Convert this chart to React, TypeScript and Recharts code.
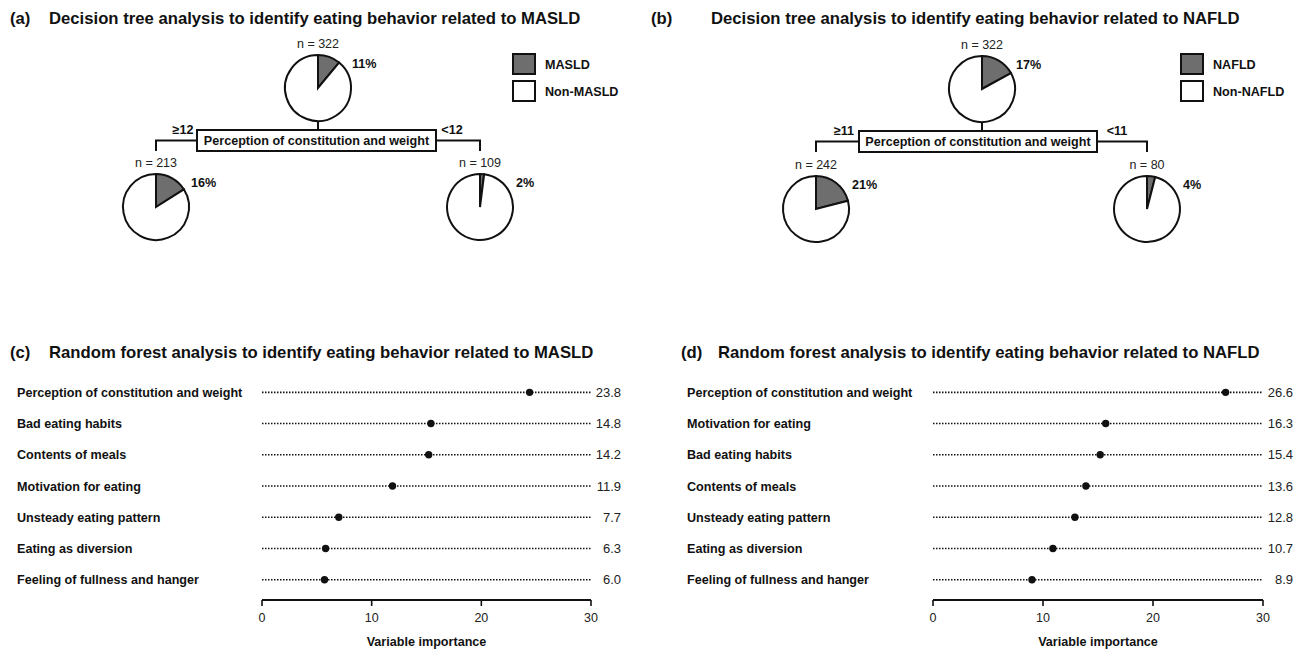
import React from 'react';
import { PieChart, Pie, Cell, ScatterChart, Scatter, XAxis, YAxis, ReferenceLine } from 'recharts';

const FONT = '"Liberation Sans", Arial, Helvetica, sans-serif';
const INK = '#111111';
const GRAY = '#6e6e6e';

// ---- Decision tree data ----
const splitVariable = 'Perception of constitution and weight';
const treeCountsA = [322, 213, 109];
const treePctA = [11, 16, 2];
const treeSplitA = ['≥12', '<12'];
const legendA = ['MASLD', 'Non-MASLD'];

const treeCountsB = [322, 242, 80];
const treePctB = [17, 21, 4];
const treeSplitB = ['≥11', '<11'];
const legendB = ['NAFLD', 'Non-NAFLD'];

// ---- Random forest data ----
const featuresC = [
  'Perception of constitution and weight',
  'Bad eating habits',
  'Contents of meals',
  'Motivation for eating',
  'Unsteady eating pattern',
  'Eating as diversion',
  'Feeling of fullness and hanger',
];
const importanceC = [24.4, 15.4, 15.2, 11.9, 7.0, 5.8, 5.7];
const valueLabelsC = ['23.8', '14.8', '14.2', '11.9', '7.7', '6.3', '6.0'];

const featuresD = [
  'Perception of constitution and weight',
  'Motivation for eating',
  'Bad eating habits',
  'Contents of meals',
  'Unsteady eating pattern',
  'Eating as diversion',
  'Feeling of fullness and hanger',
];
const importanceD = [26.6, 15.7, 15.2, 13.9, 12.9, 10.9, 9.0];
const valueLabelsD = ['26.6', '16.3', '15.4', '13.6', '12.8', '10.7', '8.9'];

const importanceTicks = [0, 10, 20, 30];

type TreeSpec = {
  panelX: number;
  tag: string;
  title: string;
  tagX: number;
  titleX: number;
  counts: number[];
  pcts: number[];
  splits: string[];
  legend: string[];
  nodes: [number, number][];
  box: [number, number, number, number];
  splitX: [number, number];
  pctX: number[];
  legendX: number;
};

const treeA: TreeSpec = {
  panelX: 0,
  tag: '(a)',
  title: 'Decision tree analysis to identify eating behavior related to MASLD',
  tagX: 10,
  titleX: 49,
  counts: treeCountsA,
  pcts: treePctA,
  splits: treeSplitA,
  legend: legendA,
  nodes: [[318, 88], [156, 207], [480, 207]],
  box: [197, 130, 436, 151],
  splitX: [183, 452],
  pctX: [352, 191, 516],
  legendX: 513,
};

const treeB: TreeSpec = {
  panelX: 650,
  tag: '(b)',
  title: 'Decision tree analysis to identify eating behavior related to NAFLD',
  tagX: 651,
  titleX: 711,
  counts: treeCountsB,
  pcts: treePctB,
  splits: treeSplitB,
  legend: legendB,
  nodes: [[982, 89], [816, 209], [1147, 209]],
  box: [859, 131, 1097, 152],
  splitX: [844, 1117],
  pctX: [1016, 852, 1183],
  legendX: 1181,
};

const R = 33;

function TreePies({ spec }: { spec: TreeSpec }) {
  return (
    <div style={{ position: 'absolute', left: spec.panelX, top: 0, width: 651, height: 260 }}>
      <PieChart width={651} height={260} margin={{ top: 0, right: 0, bottom: 0, left: 0 }}>
        {spec.nodes.map((n, i) => {
          const data = [
            { name: spec.legend[0], value: spec.pcts[i] },
            { name: spec.legend[1], value: 100 - spec.pcts[i] },
          ];
          return (
            <Pie
              key={i}
              data={data}
              dataKey="value"
              cx={n[0] - spec.panelX}
              cy={n[1]}
              innerRadius={0}
              outerRadius={R}
              startAngle={90}
              endAngle={-270}
              stroke={INK}
              strokeWidth={2}
              isAnimationActive={false}
              label={false}
              labelLine={false}
            >
              <Cell fill={GRAY} stroke={INK} strokeWidth={2} />
              <Cell fill="#ffffff" stroke={INK} strokeWidth={2} />
            </Pie>
          );
        })}
      </PieChart>
    </div>
  );
}

function TreeOverlay({ spec }: { spec: TreeSpec }) {
  const [root, left, right] = spec.nodes;
  const [bx0, by0, bx1, by1] = spec.box;
  const bmid = (by0 + by1) / 2;
  return (
    <g fontFamily={FONT}>
      <text x={spec.tagX} y={24} fontSize={16.7} fontWeight="bold" fill={INK}>{spec.tag}</text>
      <text x={spec.titleX} y={24} fontSize={16.7} fontWeight="bold" fill={INK}>{spec.title}</text>
      {spec.nodes.map((n, i) => (
        <g key={i}>
          <text x={n[0]} y={n[1] - 40} textAnchor="middle" fontSize={12.5} fill="#222">{`n = ${spec.counts[i]}`}</text>
          <text x={spec.pctX[i]} y={n[1] - 20} fontSize={12.6} fontWeight="bold" fill={INK}>{`${spec.pcts[i]}%`}</text>
        </g>
      ))}
      <line x1={root[0]} y1={root[1] + R} x2={root[0]} y2={by0} stroke={INK} strokeWidth={2} />
      <rect x={bx0} y={by0} width={bx1 - bx0} height={by1 - by0} fill="#fff" stroke={INK} strokeWidth={2} />
      <text x={(bx0 + bx1) / 2} y={bmid + 4.5} textAnchor="middle" fontSize={12.6} fontWeight="bold" fill={INK}>{splitVariable}</text>
      <polyline points={`${bx0},${bmid} ${left[0]},${bmid} ${left[0]},${by1}`} fill="none" stroke={INK} strokeWidth={2} />
      <polyline points={`${bx1},${bmid} ${right[0]},${bmid} ${right[0]},${by1}`} fill="none" stroke={INK} strokeWidth={2} />
      <text x={spec.splitX[0]} y={by0 + 4} textAnchor="middle" fontSize={12.6} fontWeight="bold" fill={INK}>{spec.splits[0]}</text>
      <text x={spec.splitX[1]} y={by0 + 4} textAnchor="middle" fontSize={12.6} fontWeight="bold" fill={INK}>{spec.splits[1]}</text>
      <rect x={spec.legendX} y={54} width={22} height={20} fill={GRAY} stroke={INK} strokeWidth={2} />
      <rect x={spec.legendX} y={81} width={22} height={20} fill="#fff" stroke={INK} strokeWidth={2} />
      <text x={spec.legendX + 32} y={68.5} fontSize={12.6} fontWeight="bold" fill={INK}>{spec.legend[0]}</text>
      <text x={spec.legendX + 32} y={95.5} fontSize={12.6} fontWeight="bold" fill={INK}>{spec.legend[1]}</text>
    </g>
  );
}

type DotSpec = {
  left: number;
  plotRight: number;
  tag: string;
  title: string;
  tagX: number;
  titleX: number;
  features: string[];
  importance: number[];
  valueLabels: string[];
  labelX: number;
  valueX: number;
};

const dotC: DotSpec = {
  left: 0,
  plotRight: 591,
  tag: '(c)',
  title: 'Random forest analysis to identify eating behavior related to MASLD',
  tagX: 10,
  titleX: 49,
  features: featuresC,
  importance: importanceC,
  valueLabels: valueLabelsC,
  labelX: 17,
  valueX: 621,
};

const dotD: DotSpec = {
  left: 671,
  plotRight: 592,
  tag: '(d)',
  title: 'Random forest analysis to identify eating behavior related to NAFLD',
  tagX: 681,
  titleX: 718,
  features: featuresD,
  importance: importanceD,
  valueLabels: valueLabelsD,
  labelX: 16,
  valueX: 622,
};

const dotShape = (props: any) => <circle cx={props.cx} cy={props.cy} r={3.7} fill={INK} />;

function DotPanel({ spec }: { spec: DotSpec }) {
  const data = spec.importance.map((v, i) => ({ row: i, importance: v }));
  const rows = spec.features.map((_, i) => i);
  const renderTick = (props: any) => {
    const { y, payload } = props;
    const i = payload.value as number;
    return (
      <g fontFamily={FONT}>
        <text x={spec.labelX} y={y + 4.5} fontSize={12.6} fontWeight="bold" fill={INK}>{spec.features[i]}</text>
        <text x={spec.valueX} y={y + 4.5} textAnchor="end" fontSize={13} fill="#222">{spec.valueLabels[i]}</text>
      </g>
    );
  };
  return (
    <div style={{ position: 'absolute', left: spec.left, top: 360, width: 650, height: 292 }}>
      <ScatterChart
        width={650}
        height={292}
        margin={{ top: 13.6, right: 650 - spec.plotRight, bottom: 0, left: 12 }}
      >
        <XAxis
          type="number"
          dataKey="importance"
          domain={[0, 30]}
          ticks={importanceTicks}
          allowDataOverflow
          height={52}
          axisLine={{ stroke: INK, strokeWidth: 2 }}
          tickLine={{ stroke: INK, strokeWidth: 1.6 }}
          tickSize={6}
          tickMargin={7}
          tick={{ fill: '#222', fontSize: 12.5, fontFamily: FONT }}
          label={{ value: 'Variable importance', position: 'insideBottom', offset: 6, style: { fontWeight: 'bold', fill: INK, fontSize: 12.6, fontFamily: FONT } }}
        />
        <YAxis
          type="number"
          dataKey="row"
          domain={[-0.6, 6.65]}
          reversed
          ticks={rows}
          interval={0}
          allowDataOverflow
          width={250}
          axisLine={false}
          tickLine={false}
          tick={renderTick}
        />
        {rows.map((r) => (
          <ReferenceLine key={r} y={r} stroke={INK} strokeWidth={1.6} strokeDasharray="1.5 1.5" ifOverflow="extendDomain" />
        ))}
        <Scatter data={data} isAnimationActive={false} shape={dotShape} />
      </ScatterChart>
    </div>
  );
}

export default function App() {
  return (
    <div style={{ position: 'relative', width: 1301, height: 652, background: '#fff', overflow: 'hidden', fontFamily: FONT }}>
      <style>{'html,body{margin:0;padding:0;background:#fff;}'}</style>
      <TreePies spec={treeA} />
      <TreePies spec={treeB} />
      <DotPanel spec={dotC} />
      <DotPanel spec={dotD} />
      <svg width={1301} height={652} style={{ position: 'absolute', left: 0, top: 0, pointerEvents: 'none' }}>
        <TreeOverlay spec={treeA} />
        <TreeOverlay spec={treeB} />
        <g fontFamily={FONT}>
          <text x={dotC.tagX} y={357.5} fontSize={16.7} fontWeight="bold" fill={INK}>{dotC.tag}</text>
          <text x={dotC.titleX} y={357.5} fontSize={16.7} fontWeight="bold" fill={INK}>{dotC.title}</text>
          <text x={dotD.tagX} y={357.5} fontSize={16.7} fontWeight="bold" fill={INK}>{dotD.tag}</text>
          <text x={dotD.titleX} y={357.5} fontSize={16.7} fontWeight="bold" fill={INK}>{dotD.title}</text>
        </g>
      </svg>
    </div>
  );
}
